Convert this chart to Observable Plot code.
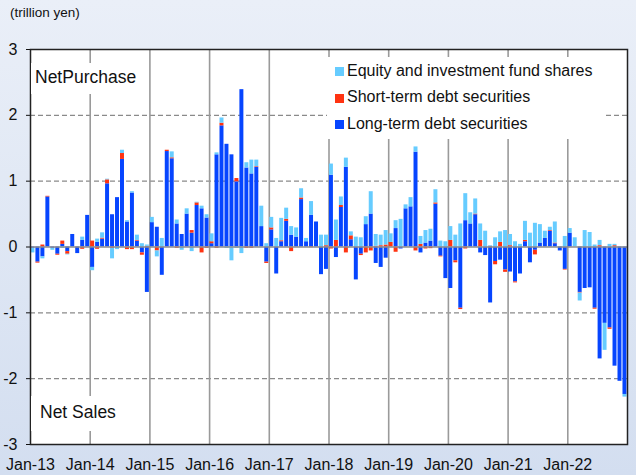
<!DOCTYPE html>
<html>
<head>
<meta charset="utf-8">
<script src="https://cdn.jsdelivr.net/npm/d3@7"></script>
<script src="https://cdn.jsdelivr.net/npm/@observablehq/plot@0.6"></script>
<style>
  html, body { margin: 0; padding: 0; }
  body { width: 636px; height: 475px; overflow: hidden; }
  #wrap { position: relative; width: 636px; height: 475px;
    background: linear-gradient(to bottom, #eaeff8 0%, #dfe7f4 50%, #d3def0 100%);
    font-family: "Liberation Sans", Arial, sans-serif; color: #111; }
  #wrap svg { position: absolute; left: 0; top: 0; }
  .ov { position: absolute; white-space: nowrap; }
  .box { position: absolute; background: #fff; }
  .sw { position: absolute; width: 9px; height: 9px; }
</style>
</head>
<body>
<div id="wrap"></div>
<script>
// Monthly net purchases (trillion yen), Jan-13 .. Dec-22
const longTerm = [
  -0.02,-0.23,-0.15, 0.76,-0.02,-0.11, 0.04,-0.07, 0.19,-0.10, 0.10, 0.48,
  -0.31, 0.07, 0.12, 0.96, 0.49, 0.75, 1.33, 0.38, 0.82, 0.09,-0.09,-0.69,
   0.37, 0.30,-0.43, 1.45, 1.34, 0.35, 0.19, 0.50, 0.21, 0.63, 0.58, 0.44,
   0.05, 1.40, 1.84, 1.56, 1.40, 0.99, 2.39, 1.20, 1.11, 1.21, 0.31,-0.23,
   0.26,-0.41, 0.08, 0.39, 0.18, 0.15, 0.72, 0.08, 0.48, 0.38,-0.42,-0.34,
   1.09,-0.16, 0.60, 1.21, 0.11,-0.50,-0.11, 0.34, 0.50,-0.25,-0.31,-0.17,
   0.00, 0.28,-0.03, 0.58, 0.61, 1.44,-0.09, 0.06, 0.09, 0.65,-0.14,-0.48,
  -0.63,-0.21,-0.93, 0.40, 0.35, 0.49,-0.09,-0.13,-0.85,-0.22,-0.20,-0.35,
  -0.38,-0.53,-0.41, 0.08,-0.24,-0.05, 0.06, 0.13, 0.24, 0.05,-0.06,-0.34,
   0.21, 0.00,-0.69,-0.63,-0.62,-0.93,-1.70,-1.16,-1.23,-1.81,-2.04,-2.24
];
const shortTerm = [
   0.00,-0.015,0.03, 0.01, 0.00,-0.015,0.05,-0.04, 0.00, 0.00,-0.035,0.00,
   0.09,-0.035,0.015,0.06,-0.02, 0.00, 0.09,-0.04,-0.04, 0.01,-0.035,0.01,
   0.00,-0.06, 0.00, 0.02, 0.015,-0.02,0.00, 0.00, 0.04, 0.04,-0.09,-0.02,
   0.03,-0.02, 0.04, 0.00, 0.00, 0.05, 0.00,-0.02,-0.02, 0.01, 0.00,-0.02,
   0.03, 0.00, 0.015,0.03,-0.07, 0.00, 0.025,0.00,-0.01, 0.00, 0.00, 0.02,
  -0.03, 0.10, 0.03,-0.09, 0.06, 0.00,-0.02,-0.09,-0.06, 0.01, 0.02, 0.03,
   0.07,-0.08, 0.00, 0.00, 0.00,-0.06, 0.04,-0.03,-0.025,0.02,-0.01, 0.00,
   0.10,-0.03,-0.02,-0.03, 0.00, 0.01, 0.10, 0.00, 0.01,-0.05, 0.07,-0.035,
   0.02,-0.015,0.00, 0.02, 0.00,-0.07, 0.00, 0.00, 0.01, 0.01, 0.00,-0.01,
   0.00, 0.00,-0.01, 0.00, 0.00,-0.015,0.02, 0.00,-0.02, 0.02, 0.00, 0.00
];
const equity = [
  -0.07, 0.00,-0.03, 0.00,-0.03, 0.00,-0.02,-0.01, 0.00, 0.00, 0.05, 0.00,
  -0.05, 0.05, 0.08, 0.01,-0.16,-0.04, 0.05, 0.02, 0.02, 0.08, 0.05, 0.02,
   0.08,-0.09, 0.13, 0.00, 0.09, 0.06,-0.05, 0.08,-0.07, 0.01, 0.04, 0.05,
   0.12, 0.03, 0.08,-0.02,-0.21,-0.02,-0.10, 0.08, 0.21, 0.10, 0.31, 0.05,
   0.16, 0.13, 0.34, 0.17, 0.13, 0.14, 0.14, 0.05, 0.21, 0.00, 0.18, 0.16,
   0.17, 0.31, 0.13, 0.14, 0.06, 0.15, 0.14, 0.12, 0.34, 0.18, 0.16, 0.22,
   0.13, 0.12, 0.42, 0.06, 0.14, 0.08, 0.12, 0.19, 0.18, 0.20, 0.09, 0.08,
   0.21, 0.18, 0.35, 0.41, 0.17, 0.23, 0.25, 0.24, 0.01, 0.14, 0.16, 0.25,
   0.17, 0.08, 0.04, 0.29, 0.21, 0.36, 0.28, 0.11, 0.05, 0.32, 0.00, 0.16,
   0.07, 0.14,-0.12, 0.25, 0.22, 0.03, 0.08,-0.41, 0.04, 0.02, 0.00,-0.04
];
const seriesNames = ["Long-term debt securities", "Short-term debt securities", "Equity and investment fund shares"];
const seriesColors = ["#0645ff", "#ff3311", "#66ccff"];
const yearLabels = ["Jan-13","Jan-14","Jan-15","Jan-16","Jan-17","Jan-18","Jan-19","Jan-20","Jan-21","Jan-22"];
const yTicks = [-3, -2, -1, 0, 1, 2, 3];
const dashedLevels = [-2, -1, 1, 2];
const yearStarts = yearLabels.map((_, k) => k * 12);

const data = [];
const cols = [longTerm, shortTerm, equity];
for (let i = 0; i < longTerm.length; i++) {
  for (let s = 0; s < 3; s++) data.push({i, i1: i + 1, s: seriesNames[s], v: cols[s][i]});
}

const chart = Plot.plot({
  width: 636, height: 475,
  marginLeft: 30, marginRight: 9, marginTop: 49, marginBottom: 31,
  style: {background: "transparent", fontFamily: "'Liberation Sans', Arial, sans-serif", fontSize: "16px", color: "#111", overflow: "visible"},
  x: {domain: [0, longTerm.length]},
  y: {domain: [-3, 3]},
  color: {domain: seriesNames, range: seriesColors},
  marks: [
    Plot.frame({fill: "white"}),
    Plot.ruleY(dashedLevels, {stroke: "#8a8a8a", strokeWidth: 1.3, strokeDasharray: "5,3"}),
    Plot.ruleX(yearStarts.slice(1), {stroke: "#9a9a9a", strokeWidth: 1.6}),
    Plot.rectY(data, {x1: "i", x2: "i1", y: "v", fill: "s", insetLeft: 0.45, insetRight: 0.55}),
    Plot.ruleY([0], {stroke: "#8c8c8c", strokeWidth: 1.6}),
    Plot.axisY({ticks: yTicks, tickFormat: d => String(d), tickSize: 4, tickPadding: 9, label: null, fontSize: 16}),
    Plot.axisX({ticks: yearStarts, tickFormat: i => yearLabels[i / 12], tickSize: 0, tickPadding: 14, label: null, fontSize: 16}),
    Plot.frame({stroke: "#222", strokeWidth: 1.5})
  ]
});

const wrap = document.getElementById("wrap");
wrap.appendChild(chart);

function add(cls, css, text) {
  const el = document.createElement("div");
  el.className = cls;
  Object.assign(el.style, css);
  if (text) el.textContent = text;
  wrap.appendChild(el);
  return el;
}
add("ov", {left: "10px", top: "5px", fontSize: "13.5px"}, "(trillion yen)");
add("box", {left: "31px", top: "63px", width: "110px", height: "31px"});
add("ov", {left: "35px", top: "67px", fontSize: "17.5px"}, "NetPurchase");
add("box", {left: "31px", top: "396px", width: "95px", height: "35px"});
add("ov", {left: "40px", top: "402px", fontSize: "17.5px"}, "Net Sales");
add("box", {left: "327px", top: "57px", width: "277px", height: "82px"});
const legendOrder = [2, 1, 0];
legendOrder.forEach((s, r) => {
  const cy = 71.5 + r * 26.5;
  add("sw", {left: "335px", top: (cy - 4.5) + "px", background: seriesColors[s]});
  add("ov", {left: "347px", top: (cy - 10) + "px", fontSize: "16px"}, seriesNames[s]);
});
</script>
</body>
</html>
